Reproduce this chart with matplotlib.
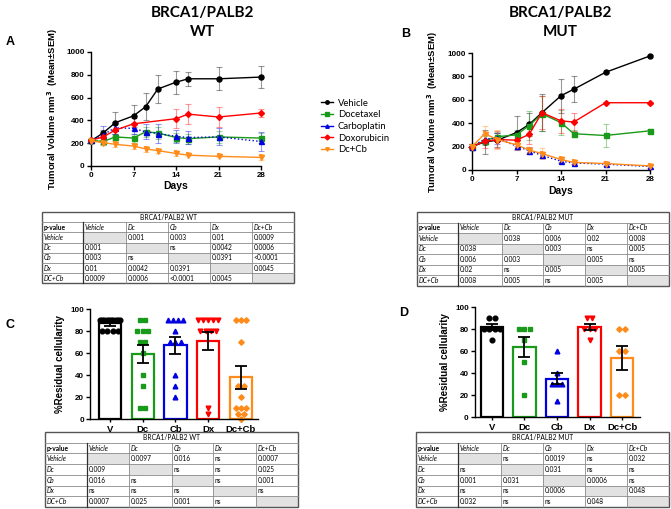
import numpy as np
import matplotlib
matplotlib.use('Agg')
import matplotlib.pyplot as plt
from matplotlib.lines import Line2D
from matplotlib.patches import Rectangle

W, H = 671, 509
fig = plt.figure(figsize=(W / 100, H / 100), dpi=100)

ARIAL = 'Liberation Sans'
CAL = 'Lato'

# ---------------- data: tumour growth ----------------
days = [0, 2, 4, 7, 9, 11, 14, 16, 21, 28]
series_names = ['Vehicle', 'Docetaxel', 'Carboplatin', 'Doxorubicin', 'Dc+Cb']
colors = ['#000000', '#1a9a1a', '#0000e0', '#ff0000', '#ff8c1a']
markers = ['o', 's', '^', 'D', 'v']

wt_vehicle = [220, 290, 380, 440, 520, 675, 735, 765, 765, 780]
wt_vehicle_err = [15, 30, 95, 95, 120, 125, 100, 60, 100, 100]
wt_doc = [225, 215, 255, 245, 300, 290, 250, 240, 255, 245]
wt_doc_err = [15, 30, 30, 40, 45, 50, 40, 45, 50, 45]
wt_carbo = [225, 275, 335, 330, 300, 285, 260, 250, 255, 215]
wt_carbo_err = [15, 80, 50, 45, 65, 85, 55, 60, 75, 85]
wt_doxo_days = [0, 2, 4, 7, 14, 16, 21, 28]
wt_doxo = [225, 255, 315, 370, 415, 455, 430, 465]
wt_doxo_err = [15, 30, 50, 50, 85, 90, 85, 35]
wt_dccb = [220, 205, 190, 175, 150, 135, 110, 95, 85, 75]
wt_dccb_err = [15, 25, 25, 25, 25, 25, 20, 10, 10, 25]

mut_vehicle = [200, 240, 255, 320, 390, 490, 635, 690, 835, 975]
mut_vehicle_err = [25, 100, 60, 140, 100, 160, 145, 110, 5, 5]
mut_doc = [200, 250, 285, 300, 380, 480, 405, 310, 295, 335]
mut_doc_err = [20, 40, 40, 40, 120, 150, 110, 30, 100, 15]
mut_carbo = [200, 265, 270, 205, 165, 125, 75, 60, 50, 30]
mut_carbo_err = [20, 40, 50, 30, 30, 25, 15, 10, 15, 10]
mut_doxo = [200, 245, 260, 255, 305, 490, 420, 410, 575, 575]
mut_doxo_err = [20, 60, 70, 50, 80, 140, 100, 75, 10, 10]
mut_dccb = [200, 310, 260, 215, 170, 140, 90, 65, 55, 35]
mut_dccb_err = [25, 70, 80, 40, 30, 45, 20, 15, 20, 15]

# ---------------- data: residual cellularity ----------------
groups = ['V', 'Dc', 'Cb', 'Dx', 'Dc+Cb']
wt_mean = [87, 59, 67, 71, 38]
wt_sem = [2, 8.5, 7.5, 8.5, 10.5]
wt_points = [
    [90] * 10 + [80] * 4,
    [90] * 2 + [80] * 3 + [70] * 2 + [60, 40, 30, 10, 10],
    [90] * 4 + [80] + [70] * 3 + [40, 30, 20],
    [90] * 5 + [80] * 4 + [5, 10],
    [90] * 3 + [70, 30, 30, 20, 10, 10, 10, 5, 5, 0],
]
mut_mean = [82, 64, 35, 82, 54]
mut_sem = [3, 9, 5, 3, 11]
mut_points = [
    [90, 90, 80, 80, 80, 80, 70],
    [80, 80, 80, 70, 50, 20],
    [60, 40, 30, 30, 30, 15],
    [90, 90, 80, 80, 80, 70],
    [80, 80, 60, 60, 20, 20],
]

# ---------------- data: p-value tables ----------------
tbl_header = ['p-value', 'Vehicle', 'Dc', 'Cb', 'Dx', 'Dc+Cb']
tbl_rows = ['Vehicle', 'Dc', 'Cb', 'Dx', 'DC+Cb']
tableA = [
    ['', '0.001', '0.003', '0.01', '0.0009'],
    ['0.001', '', 'ns', '0.0042', '0.0006'],
    ['0.003', 'ns', '', '0.0391', '<0.0001'],
    ['0.01', '0.0042', '0.0391', '', '0.0045'],
    ['0.0009', '0.0006', '<0.0001', '0.0045', ''],
]
tableB = [
    ['', '0.038', '0.006', '0.02', '0.008'],
    ['0.038', '', '0.003', 'ns', '0.005'],
    ['0.006', '0.003', '', '0.005', 'ns'],
    ['0.02', 'ns', '0.005', '', '0.005'],
    ['0.008', '0.005', 'ns', '0.005', ''],
]
tableC = [
    ['', '0.0097', '0.016', 'ns', '0.0007'],
    ['0.009', '', 'ns', 'ns', '0.025'],
    ['0.016', 'ns', '', 'ns', '0.001'],
    ['ns', 'ns', 'ns', '', 'ns'],
    ['0.0007', '0.025', '0.001', 'ns', ''],
]
tableD = [
    ['', 'ns', '0.0019', 'ns', '0.032'],
    ['ns', '', '0.031', 'ns', 'ns'],
    ['0.001', '0.031', '', '0.0006', 'ns'],
    ['ns', 'ns', '0.0006', '', '0.048'],
    ['0.032', 'ns', 'ns', '0.048', ''],
]


def px_axes(x0, y0, x1, y1):
    return fig.add_axes([x0 / W, 1 - y1 / H, (x1 - x0) / W, (y1 - y0) / H])


# background overlay in pixel coordinates
bg = fig.add_axes([0, 0, 1, 1])
bg.set_xlim(0, W)
bg.set_ylim(H, 0)
bg.axis('off')


def style_axes(ax):
    for s in ['top', 'right']:
        ax.spines[s].set_visible(False)
    for s in ['left', 'bottom']:
        ax.spines[s].set_linewidth(1.0)
    ax.tick_params(direction='out', length=3, width=1.0, pad=1.5,
                   labelsize=5.8)
    for lab in ax.get_xticklabels() + ax.get_yticklabels():
        lab.set_fontfamily(ARIAL)
        lab.set_fontweight('bold')


def growth_panel(ax, data):
    for i, (x, y, e) in enumerate(data):
        ax.errorbar(x, y, yerr=e, fmt='none', ecolor=colors[i], alpha=0.4,
                    capsize=2.0, elinewidth=0.8, capthick=0.8, clip_on=False)
    for i, (x, y, e) in enumerate(data):
        ls = ':' if i == 2 else '-'
        ax.plot(x, y, color=colors[i], marker=markers[i], ms=3.6 if i != 3 else 3.0,
                lw=1.0, ls=ls, clip_on=False, label=series_names[i], zorder=3)
    ax.set_xlim(0, 28)
    ax.set_ylim(0, 1000)
    ax.set_xticks([0, 7, 14, 21, 28])
    ax.set_yticks([0, 200, 400, 600, 800, 1000])
    style_axes(ax)
    ax.set_ylabel('Tumoral Volume mm$^\\mathbf{3}$  (Mean\u00b1SEM)', fontsize=6.8,
                  fontweight='bold', fontfamily=ARIAL)
    ax.set_xlabel('Days', fontsize=7.5, fontweight='bold', fontfamily=ARIAL)
    ax.yaxis.set_label_coords(-0.18, 0.5)


axA = px_axes(91, 52, 261, 166)
growth_panel(axA, [
    (days, wt_vehicle, wt_vehicle_err),
    (days, wt_doc, wt_doc_err),
    (days, wt_carbo, wt_carbo_err),
    (wt_doxo_days, wt_doxo, wt_doxo_err),
    (days, wt_dccb, wt_dccb_err),
])
axA.xaxis.set_label_coords(0.5, -0.13)

axB = px_axes(472, 53, 650, 170)
growth_panel(axB, [
    (days, mut_vehicle, mut_vehicle_err),
    (days, mut_doc, mut_doc_err),
    (days, mut_carbo, mut_carbo_err),
    (days, mut_doxo, mut_doxo_err),
    (days, mut_dccb, mut_dccb_err),
])
axB.xaxis.set_label_coords(0.5, -0.14)
axB.yaxis.set_label_coords(-0.18, 0.5)

handles = [Line2D([], [], color=colors[i], marker=markers[i], ms=2.5, lw=1.0)
           for i in range(5)]
fig.legend(handles, series_names, loc='upper left',
           bbox_to_anchor=(316 / W, 1 - 94 / H), frameon=False,
           prop={'family': CAL, 'size': 6.8}, handlelength=1.3,
           handletextpad=0.5, labelspacing=0.28, borderpad=0)


def bar_panel(ax, means, sems, points):
    xs = np.arange(len(groups))
    for i in range(len(groups)):
        ax.bar(xs[i], means[i], width=0.68, facecolor='white',
               edgecolor=colors[i], linewidth=1.6, zorder=1)
    for i, pts in enumerate(points):
        vals, counts = np.unique(pts, return_counts=True)
        for v, n in zip(vals, counts):
            sp = min(0.16, 0.62 / max(n - 1, 1))
            offs = (np.arange(n) - (n - 1) / 2) * sp
            ax.plot(xs[i] + offs, [v] * n, ls='none', marker=['o', 's', '^', 'v', 'D'][i],
                    ms=3.4 if i != 4 else 2.8, color=colors[i], zorder=2, clip_on=False)
    ax.errorbar(xs, means, yerr=sems, fmt='none', ecolor='black', elinewidth=1.3,
                capsize=4.5, capthick=1.3, zorder=3)
    ax.set_ylim(0, 100)
    ax.set_yticks([0, 20, 40, 60, 80, 100])
    ax.set_xticks(xs)
    ax.set_xticklabels(groups)
    style_axes(ax)
    ax.tick_params(axis='x', length=2, labelsize=6.8, pad=2)
    ax.set_ylabel('%Residual cellularity', fontsize=7, fontweight='bold',
                  fontfamily=ARIAL)
    ax.yaxis.set_label_coords(-0.15, 0.5)


axC = px_axes(90, 309, 258, 419)
bar_panel(axC, wt_mean, wt_sem, wt_points)
axC.set_xlim(-0.61, 4.52)

axD = px_axes(475, 307, 640, 417)
bar_panel(axD, mut_mean, mut_sem, mut_points)
axD.set_xlim(-0.52, 4.55)


def draw_table(cols, top, rh, title, cells):
    nrows = 2 + len(tbl_rows)
    bottom = top + nrows * rh
    left, right = cols[0], cols[-1]
    for i in range(len(tbl_rows)):
        for j in range(len(cells[i])):
            if cells[i][j] == '':
                bg.add_patch(Rectangle((cols[j + 1], top + (i + 2) * rh),
                                       cols[j + 2] - cols[j + 1], rh,
                                       facecolor='#e2e2e2', edgecolor='none'))
    for r in range(1, nrows):
        bg.plot([left, right], [top + r * rh] * 2, color='#8a8a8a', lw=0.6)
    for k, c in enumerate(cols[1:-1]):
        bg.plot([c, c], [top + rh, bottom], color='#303030' if k == 0 else '#8a8a8a',
                lw=0.9 if k == 0 else 0.6)
    bg.add_patch(Rectangle((left, top), right - left, bottom - top, facecolor='none',
                           edgecolor='#555555', lw=1.0))
    fs = 4.8
    bg.text((left + right) / 2, top + rh / 2, title, ha='center', va='center',
            fontsize=fs, fontfamily=CAL)
    for j, h in enumerate(tbl_header):
        bg.text(cols[j] + 1.5, top + 1.5 * rh, h, ha='left', va='center', fontsize=fs,
                fontfamily=CAL, fontweight='bold' if j == 0 else 'normal',
                fontstyle='normal' if j == 0 else 'italic')
    for i, rl in enumerate(tbl_rows):
        y = top + (i + 2.5) * rh
        bg.text(cols[0] + 1.5, y, rl, ha='left', va='center', fontsize=fs,
                fontfamily=CAL, fontstyle='italic')
        for j, v in enumerate(cells[i]):
            if v:
                bg.text(cols[j + 1] + 1.5, y, v, ha='left', va='center', fontsize=fs,
                        fontfamily=CAL)


draw_table([42, 83, 126, 168, 210, 252, 294], 212, 10.2, 'BRCA1/PALB2 WT', tableA)
draw_table([417, 458, 502, 543, 585, 627, 669], 212, 10.5, 'BRCA1/PALB2 MUT', tableB)
draw_table([45, 87, 129, 172, 213, 256, 298], 432, 10.7, 'BRCA1/PALB2 WT', tableC)
draw_table([416, 458, 501, 543, 585, 627, 669], 432, 10.7, 'BRCA1/PALB2 MUT', tableD)

# titles and panel letters
for x, sub in [(202, 'WT'), (560, 'MUT')]:
    bg.text(x, 13, 'BRCA1/PALB2', ha='center', va='center', fontsize=11,
            fontweight='bold', fontfamily=CAL)
    bg.text(x, 32, sub, ha='center', va='center', fontsize=11,
            fontweight='bold', fontfamily=CAL)
for (x, y, t) in [(10, 42, 'A'), (406, 34, 'B'), (10, 325, 'C'), (404, 313, 'D')]:
    bg.text(x, y, t, ha='center', va='center', fontsize=9, fontweight='bold',
            fontfamily=ARIAL)

fig.savefig('out.png', dpi=100)
